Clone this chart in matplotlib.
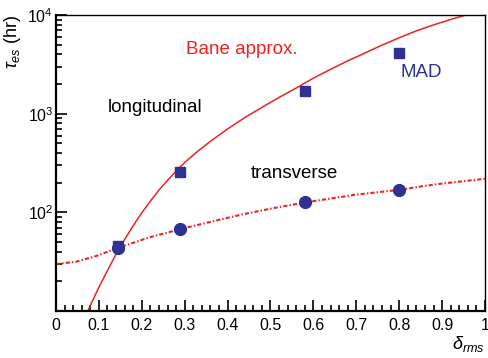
import numpy as np
import matplotlib
matplotlib.use("Agg")
import matplotlib.pyplot as plt
from matplotlib.ticker import MultipleLocator, LogLocator, NullFormatter, FixedLocator

plt.rcParams['font.family'] = ['Liberation Sans', 'DejaVu Sans']
plt.rcParams['mathtext.fontset'] = 'custom'
plt.rcParams['mathtext.rm'] = 'Liberation Sans'
plt.rcParams['mathtext.it'] = 'Liberation Sans:italic'

# MAD results, longitudinal (squares) and transverse (circles)
delta_mad = [0.145, 0.29, 0.58, 0.80]
tau_long = [46, 256, 1690, 4110]
tau_trans = [43.7, 67.8, 126, 169]

# Bane approximation, longitudinal (solid line)
bane_x = [0.074, 0.10, 0.12, 0.14, 0.16, 0.18, 0.20, 0.22, 0.24, 0.26, 0.28,
          0.30, 0.33, 0.36, 0.40, 0.44, 0.48, 0.52, 0.56, 0.60, 0.64, 0.68,
          0.72, 0.76, 0.80, 0.84, 0.88, 0.92, 0.955, 0.97]
bane_long = [10, 17.4, 25.7, 37.6, 53.1, 73.3, 98.9, 130, 168, 211, 262,
             320, 415, 525, 700, 912, 1161, 1462, 1820, 2291, 2818, 3428,
             4121, 4955, 5888, 6918, 7943, 9016, 10000, 10470]

# Bane approximation, transverse (dash-dot line)
trans_x = [0.0, 0.047, 0.093, 0.145, 0.218, 0.291, 0.365, 0.435, 0.51, 0.581,
           0.64, 0.699, 0.75, 0.801, 0.85, 0.901, 0.95, 1.0]
trans_curve = [29.9, 31.6, 36, 43.7, 55.8, 67.8, 81, 95.5, 111, 126,
               138, 151, 160, 169, 183, 196, 207, 219]

red = '#ee2222'
blue = '#2e3192'

fig = plt.figure(figsize=(4.89, 3.58), dpi=100)
ax = fig.add_axes([0.1145, 0.1313, 0.8773, 0.8267])

ax.plot(bane_x, bane_long, color=red, lw=1.1, zorder=2)
ax.plot(trans_x, trans_curve, color=red, lw=1.5, dashes=(2, 1, 0.7, 1), zorder=2)
ax.plot(delta_mad, tau_long, ls='none', marker='s', ms=7.5, color=blue, zorder=3)
ax.plot(delta_mad, tau_trans, ls='none', marker='o', ms=8.5, color=blue, zorder=3)

ax.set_yscale('log')
ax.set_xlim(0, 1)
ax.set_ylim(10, 1e4)

ax.xaxis.set_minor_locator(MultipleLocator(0.02))
ax.set_xticks(np.arange(0, 1.01, 0.1))
ax.set_xticklabels(['0', '0.1', '0.2', '0.3', '0.4', '0.5', '0.6', '0.7', '0.8', '0.9', '1'])
ax.yaxis.set_major_locator(FixedLocator([10, 100, 1000, 10000]))
ax.yaxis.set_minor_locator(LogLocator(base=10, subs=np.arange(2, 10)))
ax.yaxis.set_minor_formatter(NullFormatter())
ax.set_yticklabels(['', r'$10^2$', r'$10^3$', r'$10^4$'])

ax.tick_params(which='both', direction='in', top=False, right=False, labelsize=11.5, width=1.2)
ax.tick_params(which='major', length=8)
ax.tick_params(which='minor', length=4)
ax.tick_params(axis='x', pad=5)
ax.tick_params(axis='y', pad=2)

for side in ['left', 'bottom']:
    ax.spines[side].set_linewidth(1.6)
for side in ['top', 'right']:
    ax.spines[side].set_linewidth(1.0)

ax.set_ylabel(r'$\tau_{es}$ (hr)', fontsize=13, y=1.0, ha='right', labelpad=3)
ax.set_xlabel(r'$\delta_{rms}$', fontsize=13, x=1.0, ha='right', labelpad=1)

ax.text(0.303, 0.882, 'Bane approx.', color=red, fontsize=13.5, va='center', transform=ax.transAxes)
ax.text(0.121, 0.686, 'longitudinal', color='black', fontsize=13.5, va='center', transform=ax.transAxes)
ax.text(0.455, 0.463, 'transverse', color='black', fontsize=13.5, va='center', transform=ax.transAxes)
ax.text(0.804, 0.807, 'MAD', color=blue, fontsize=13.5, va='center', transform=ax.transAxes)

fig.savefig('out.png', dpi=100)
